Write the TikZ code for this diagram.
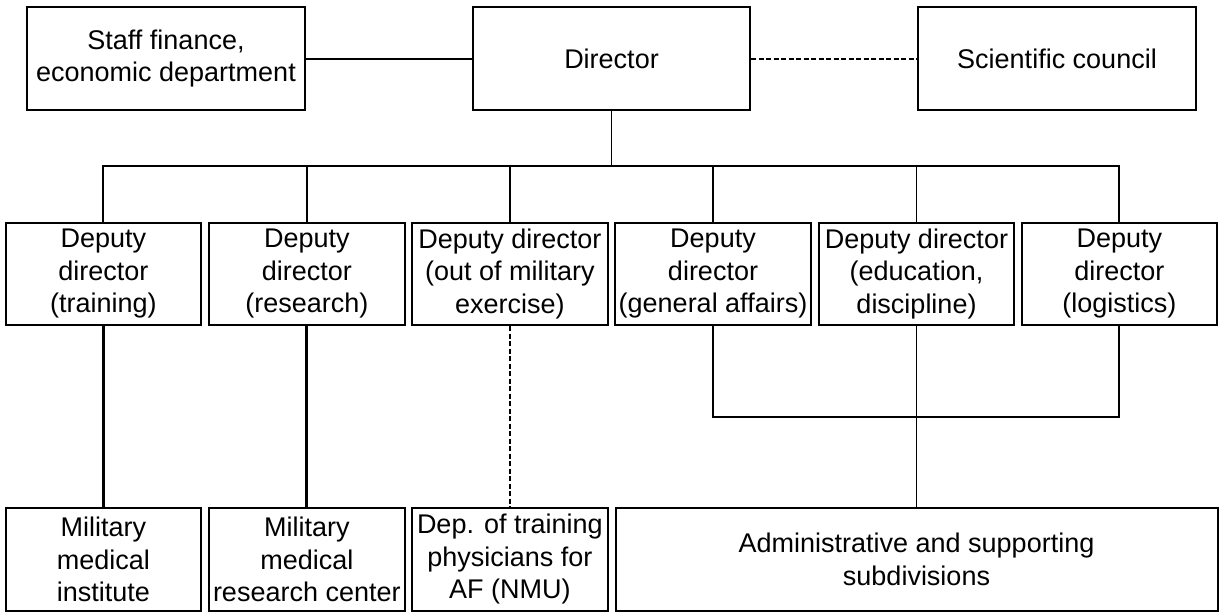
\documentclass[tikz,border=0pt]{standalone}
\usepackage{fontspec}
\setmainfont{Liberation Sans}
\begin{document}
\begin{tikzpicture}[x=1pt,y=-1pt,
  box/.style={draw, line width=2pt, inner sep=0pt, align=center,
    font=\fontsize{27}{32.5}\selectfont, minimum height=102.5pt},
  topbox/.style={box, minimum width=278pt},
  depbox/.style={box, minimum width=195.5pt},
  link/.style={line width=1.9pt},
  heavy/.style={line width=2.8pt},
  dashlink/.style={line width=1.9pt, dash pattern=on 5pt off 2.5pt}]
\useasboundingbox (0,0) rectangle (1222,612);
% top row
\node[topbox] (staff) at (166,58.7) {Staff finance,\\economic department};
\node[topbox, minimum width=277pt] (dir) at (611.5,58.7) {Director};
\node[topbox] (sci) at (1057,58.7) {Scientific council};
% deputies
\node[depbox] (d1) at (103.3,273.9) {Deputy\\director\\(training)};
\node[depbox] (d2) at (306.8,273.9) {Deputy\\director\\(research)};
\node[depbox] (d3) at (509.8,273.9) {Deputy director\\(out of military\\exercise)};
\node[depbox] (d4) at (713,273.9) {Deputy\\director\\(general affairs)};
\node[depbox] (d5) at (916.5,273.9) {Deputy director\\(education,\\discipline)};
\node[depbox] (d6) at (1119.4,273.9) {Deputy\\director\\(logistics)};
% bottom row
\node[depbox] (b1) at (103.3,559.5) {Military\\medical\\institute};
\node[depbox] (b2) at (306.8,559.5) {Military\\medical\\research center};
\node[depbox] (b3) at (509.8,559.5) {Dep. of training\\physicians for\\AF (NMU)};
\node[box, minimum width=602pt] (adm) at (916.5,559.5) {Administrative and supporting\\subdivisions};
% connectors
\coordinate (bus) at (611.5,165.7);
\coordinate (jn) at (916.5,416.7);
\draw[link] (staff.east) -- (dir.west);
\draw[dashlink] (dir.east) -- (sci.west);
\draw[link] (dir.south) -- (bus);
\draw[link] (d1.north) -- (d1.north |- bus) -- (d6.north |- bus) -- (d6.north);
\draw[link] (d2.north) -- (d2.north |- bus);
\draw[link] (d3.north) -- (d3.north |- bus);
\draw[link] (d4.north) -- (d4.north |- bus);
\draw[link] (d5.north) -- (d5.north |- bus);
\draw[heavy] (d1.south) -- (b1.north);
\draw[heavy] (d2.south) -- (b2.north);
\draw[dashlink] (d3.south) -- (b3.north);
\draw[link] (d4.south) -- (d4.south |- jn) -- (d6.south |- jn) -- (d6.south);
\draw[link] (d5.south) -- (adm.north);
\end{tikzpicture}
\end{document}
